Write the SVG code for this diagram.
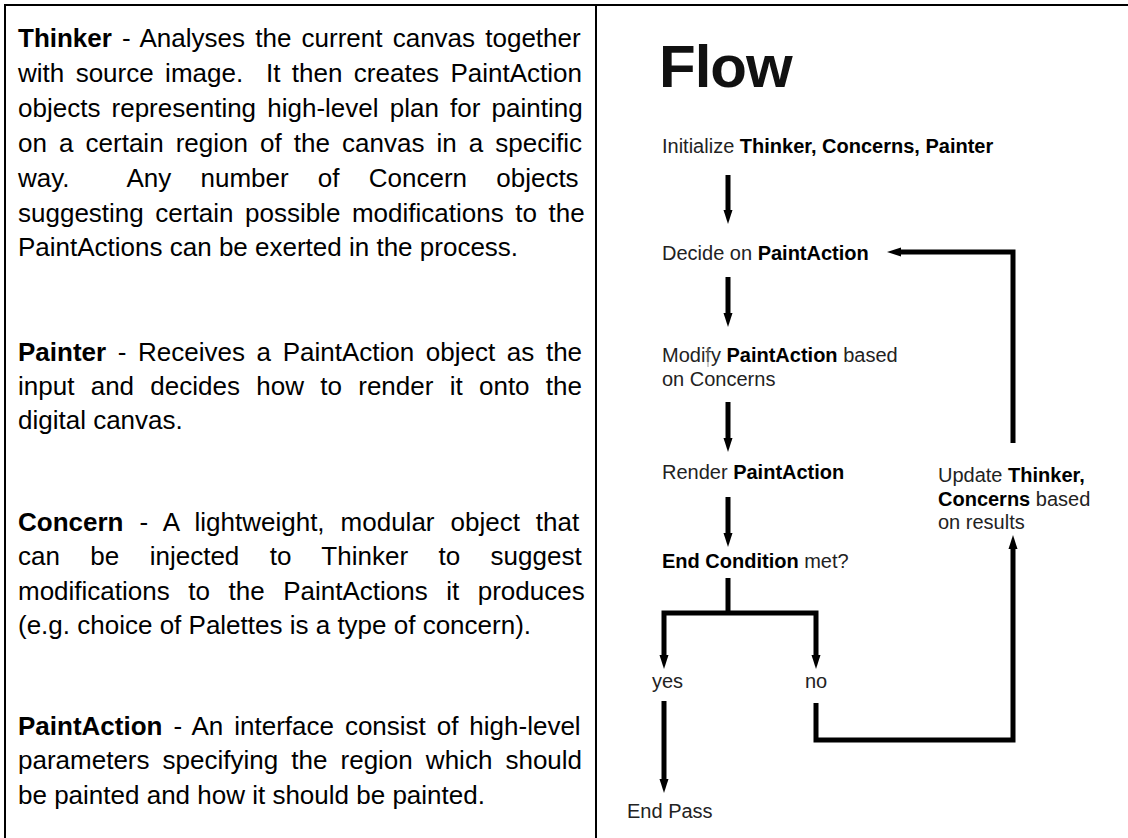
<svg xmlns="http://www.w3.org/2000/svg" width="1128" height="838" viewBox="0 0 1128 838">
<style>
.t{font-family:"Liberation Sans",Arial,sans-serif;font-size:26px;fill:#000}
.f{font-family:"Liberation Sans",Arial,sans-serif;font-size:20px;fill:#222}
.b{font-weight:bold;fill:#000}
.grid{stroke:#000;stroke-width:2;fill:none}
.c{stroke:#000;stroke-width:5;fill:none;stroke-linejoin:miter;stroke-linecap:butt}
.ah{marker-end:url(#ah)}
</style>
<defs>
<marker id="ah" markerUnits="userSpaceOnUse" markerWidth="16" markerHeight="10" viewBox="0 0 16 10" refX="4" refY="5" orient="auto-start-reverse">
<path d="M0,0.5 L14,5 L0,9.5 z" fill="#000"/>
</marker>
</defs>
<rect width="1128" height="838" fill="#fff"/>
<g id="table">
<path class="grid" d="M5,838 V5 H1128 M596,5 V838"/>
</g>
<g id="thinker-desc">
<text class="t" x="18" y="47" word-spacing="2.97"><tspan class="b">Thinker</tspan> - Analyses the current canvas together</text>
<text class="t" x="18" y="81.9" word-spacing="4.19">with source image.&#160; It then creates PaintAction</text>
<text class="t" x="18" y="116.8" word-spacing="3.94">objects representing high-level plan for painting</text>
<text class="t" x="18" y="151.7" word-spacing="4.86">on a certain region of the canvas in a specific</text>
<text class="t" x="18" y="186.6" word-spacing="21.98">way.&#160; Any number of Concern objects</text>
<text class="t" x="18" y="221.5" word-spacing="4.36">suggesting certain possible modifications to the</text>
<text class="t" x="18" y="256.4">PaintActions can be exerted in the process.</text>
</g>
<g id="painter-desc">
<text class="t" x="18" y="360.6" word-spacing="4.4"><tspan class="b">Painter</tspan> - Receives a PaintAction object as the</text>
<text class="t" x="18" y="395" word-spacing="9.07">input and decides how to render it onto the</text>
<text class="t" x="18" y="429.4">digital canvas.</text>
</g>
<g id="concern-desc">
<text class="t" x="18" y="531" word-spacing="8.75"><tspan class="b">Concern</tspan> - A lightweight, modular object that</text>
<text class="t" x="18" y="565.4" word-spacing="23.2">can be injected to Thinker to suggest</text>
<text class="t" x="18" y="599.8" word-spacing="11.3">modifications to the PaintActions it produces</text>
<text class="t" x="18" y="634.2">(e.g. choice of Palettes is a type of concern).</text>
</g>
<g id="paintaction-desc">
<text class="t" x="18" y="735" word-spacing="3.7"><tspan class="b">PaintAction</tspan> - An interface consist of high-level</text>
<text class="t" x="18" y="769.4" word-spacing="5.86">parameters specifying the region which should</text>
<text class="t" x="18" y="803.8">be painted and how it should be painted.</text>
</g>
<g id="flow-title">
<text x="659" y="87" font-family="Liberation Sans, Arial, sans-serif" font-size="60" font-weight="bold" letter-spacing="-1" fill="#111">Flow</text>
</g>
<g id="n-init">
<text class="f" x="662" y="153">Initialize <tspan class="b">Thinker, Concerns, Painter</tspan></text>
</g>
<g id="n-decide">
<text class="f" x="662" y="260">Decide on <tspan class="b">PaintAction</tspan></text>
</g>
<g id="n-modify">
<text class="f" x="662" y="362">Modify <tspan class="b">PaintAction</tspan> based</text>
<text class="f" x="662" y="386">on Concerns</text>
<line x1="708" y1="348" x2="708" y2="367" stroke="#999" stroke-width="1"/>
</g>
<g id="n-render">
<text class="f" x="662" y="479">Render <tspan class="b">PaintAction</tspan></text>
</g>
<g id="n-update">
<text class="f" x="938" y="482">Update <tspan class="b">Thinker,</tspan></text>
<text class="f" x="938" y="506"><tspan class="b">Concerns</tspan> based</text>
<text class="f" x="938" y="529">on results</text>
</g>
<g id="n-end-cond">
<text class="f" x="662" y="568"><tspan class="b">End Condition</tspan> met?</text>
</g>
<g id="n-yes">
<text class="f" x="652" y="688">yes</text>
</g>
<g id="n-no">
<text class="f" x="805" y="688">no</text>
</g>
<g id="n-endpass">
<text class="f" x="627" y="818">End Pass</text>
</g>
<g id="connectors">
<path class="c ah" d="M728,175 V214"/>
<path class="c ah" d="M728,277 V317"/>
<path class="c ah" d="M728,402 V442"/>
<path class="c ah" d="M728,497 V537"/>
<path class="c" d="M728,578 V613"/>
<path class="c" d="M664,659 V613 H816 V659" marker-start="url(#ah)" marker-end="url(#ah)"/>
<path class="c ah" d="M664,701 V783"/>
<path class="c ah" d="M816,703 V740 H1013 V545"/>
<path class="c ah" d="M1013,443 V252 H897"/>
</g>
</svg>
